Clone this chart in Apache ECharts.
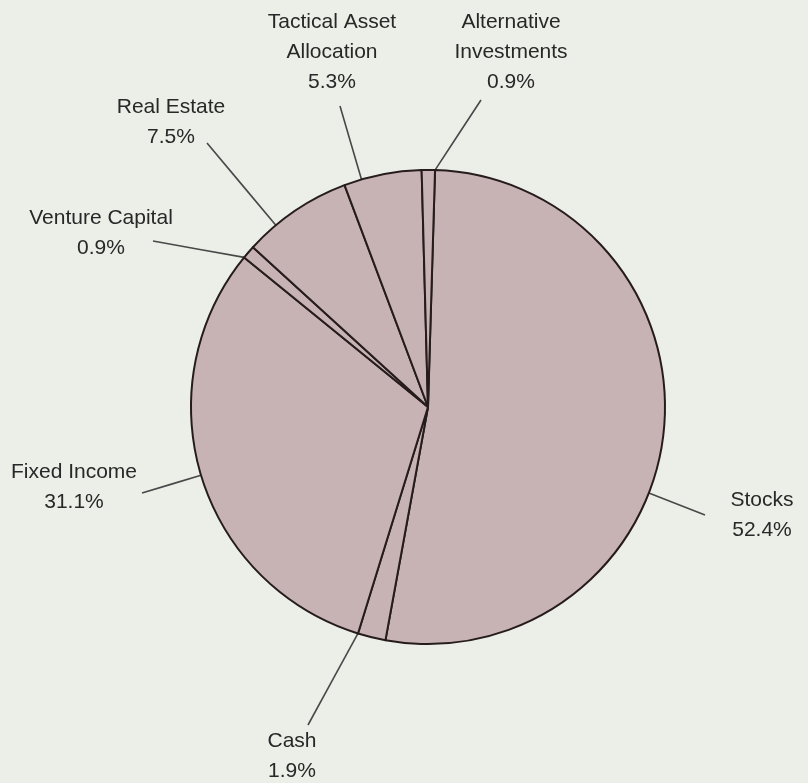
<!DOCTYPE html>
<html>
<head>
<meta charset="utf-8">
<script src="https://cdn.jsdelivr.net/npm/echarts@6/dist/echarts.min.js"></script>
<style>
html,body{margin:0;padding:0;background:#eceee8;}
#chart{width:808px;height:783px;}
</style>
</head>
<body>
<div id="chart"></div>
<script>
// Data (clockwise from 12 o'clock)
const categories = ['Stocks', 'Cash', 'Fixed Income', 'Venture Capital', 'Real Estate', 'Tactical Asset\nAllocation', 'Alternative\nInvestments'];
const shares = [52.4, 1.9, 31.1, 0.9, 7.5, 5.3, 0.9];

// Layout only: label block centres and where each leader line meets its label (offset from centre)
const labelCentres = [[762, 515], [292, 756], [74, 487], [101, 233], [171, 122], [332, 52], [511, 52]];
const lineAttach = [[-57, 0], [16, -31], [68, 6], [52, 8], [36, 21], [8, 54], [-30, 48]];

const CX = 428, CY = 407, R = 237, START = 88.3;

// slice angle ranges (math degrees, clockwise from START) derived from the data
const total = shares.reduce((a, b) => a + b, 0);
const ranges = [];
let acc = START;
shares.forEach(v => { const sweep = v / total * 360; ranges.push([acc - sweep, acc]); acc -= sweep; });

// nearest point of slice i's arc to (px, py)
function anchorFor(i, px, py) {
  let ang = Math.atan2(-(py - CY), px - CX) * 180 / Math.PI;
  const [lo, hi] = ranges[i];
  while (ang < lo) ang += 360;
  while (ang >= lo + 360) ang -= 360;
  if (ang > hi) {
    const dHi = ang - hi, dLo = lo + 360 - ang;
    ang = dHi < dLo ? hi : lo;
  }
  const rad = ang * Math.PI / 180;
  return [CX + R * Math.cos(rad), CY - R * Math.sin(rad)];
}

const chart = echarts.init(document.getElementById('chart'), null, {renderer: 'canvas'});
const option = {
  backgroundColor: '#eceee8',
  animation: false,
  series: [{
    type: 'pie',
    center: [CX, CY],
    radius: R,
    startAngle: START,
    clockwise: true,
    avoidLabelOverlap: false,
    silent: true,
    data: categories.map((c, i) => ({name: c, value: shares[i]})),
    itemStyle: {color: '#c8b3b4', borderColor: '#261c1c', borderWidth: 2},
    label: {
      show: true,
      position: 'outside',
      formatter: p => p.name + '\n' + p.value.toFixed(1) + '%',
      fontFamily: 'Liberation Sans, Arial, sans-serif',
      fontSize: 21,
      lineHeight: 30,
      color: '#282828',
      align: 'center'
    },
    labelLine: {show: true, length: 20, length2: 0, lineStyle: {color: '#484848', width: 1.6}},
    labelLayout: function (params) {
      const i = params.dataIndex;
      const c = labelCentres[i];
      const e = [c[0] + lineAttach[i][0], c[1] + lineAttach[i][1]];
      const a = anchorFor(i, e[0], e[1]);
      return {
        x: c[0], y: c[1], align: 'center', verticalAlign: 'middle',
        labelLinePoints: [a, [(a[0] + e[0]) / 2, (a[1] + e[1]) / 2], e]
      };
    }
  }]
};
chart.setOption(option);
</script>
</body>
</html>
